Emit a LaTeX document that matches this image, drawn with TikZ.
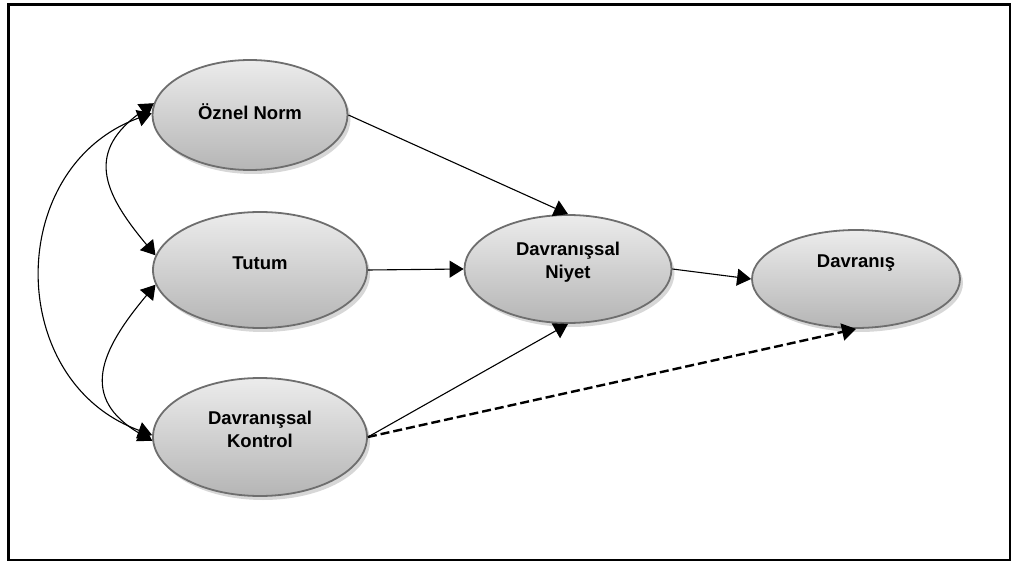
\documentclass[tikz,border=0pt]{standalone}
\usepackage{fontspec}
\setmainfont{Liberation Sans}
\usetikzlibrary{shapes.geometric, shadows, arrows.meta}
\definecolor{rimgray}{RGB}{110,110,110}

\begin{document}
\begin{tikzpicture}[x=1pt, y=-1pt,
		construct/.style={ellipse, draw=rimgray, line width=1.8pt, inner sep=0pt,
			top color=gray!15, middle color=white, bottom color=gray!58,
			drop shadow={shadow xshift=3pt, shadow yshift=-4pt, fill=gray!45, opacity=.7}},
		lbl/.style={font=\bfseries\fontsize{18.5}{23}\selectfont, align=center, inner sep=0pt},
		arr/.style={-{Triangle[length=14pt, width=17pt]}, line width=1.1pt},
		twoway/.style={{Triangle[length=14pt, width=17pt]}-{Triangle[length=14pt, width=17pt]}, line width=1.1pt}]
	\useasboundingbox (0,0) rectangle (1011,561);
	\draw[line width=3pt] (8,5) rectangle (1010,560);

	\node[construct, minimum width=195pt, minimum height=110pt, label={[lbl, yshift=3pt]center:{Öznel Norm}}] (oznel) at (250,115) {};
	\node[construct, minimum width=214pt, minimum height=116pt, label={[lbl, yshift=7pt]center:{Tutum}}] (tutum) at (260,270) {};
	\node[construct, minimum width=214pt, minimum height=118pt, label={[lbl, yshift=8pt]center:{Davranışsal\\Kontrol}}] (kontrol) at (260,437) {};
	\node[construct, minimum width=207pt, minimum height=108pt, label={[lbl, yshift=7pt]center:{Davranışsal\\Niyet}}] (niyet) at (568,269) {};
	\node[construct, minimum width=208pt, minimum height=98pt, label={[lbl, yshift=16pt]center:{Davranış}}] (davranis) at (856,279) {};

	\draw[arr] (oznel.east) -- (niyet.north);
	\draw[arr] (tutum.east) -- (niyet.west);
	\draw[arr] (kontrol.east) -- (niyet.south);
	\draw[arr] (niyet.east) -- (davranis.west);
	\draw[arr, line width=2.4pt, dash pattern=on 9pt off 4pt] (kontrol.east) -- (davranis.south);

	\draw[twoway] (oznel.173) to[out=215, in=130, looseness=1.4] (tutum.172);
	\draw[twoway] (tutum.188) to[out=230, in=150, looseness=1.4] (kontrol.182);
	\draw[twoway] (oznel.179) to[out=200, in=160, looseness=1.25] (kontrol.179);
\end{tikzpicture}
\end{document}
